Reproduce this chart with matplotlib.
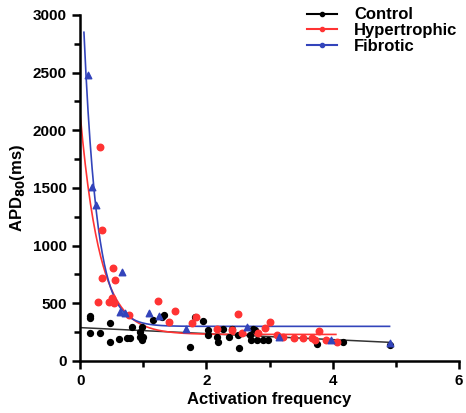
import numpy as np
import matplotlib
matplotlib.use('Agg')
import matplotlib.pyplot as plt
from matplotlib.ticker import MultipleLocator

plt.rcParams['font.family'] = ['Liberation Sans', 'DejaVu Sans']
plt.rcParams['font.weight'] = 'bold'

# Control (black circles)
ctrl_x = [0.16, 0.16, 0.16, 0.32, 0.47, 0.47, 0.61, 0.74, 0.79, 0.82, 0.95, 0.98, 0.95,
          1.0, 0.98, 1.16, 1.29, 1.32, 1.74, 1.82, 1.95, 2.03, 2.03, 2.16, 2.19, 2.27,
          2.35, 2.4, 2.52, 2.5, 2.69, 2.77, 2.74, 2.71, 2.8, 2.9, 2.98, 3.75, 4.17, 4.9]
ctrl_y = [390, 370, 245, 245, 332, 167, 188, 197, 197, 292, 254, 297, 211,
          211, 182, 355, 379, 399, 124, 384, 349, 269, 225, 211, 167, 275,
          211, 275, 110, 225, 225, 269, 275, 182, 182, 182, 182, 147, 167, 140]

# Hypertrophic (red circles)
hyp_x = [0.32, 0.34, 0.52, 0.35, 0.55, 0.29, 0.45, 0.51, 0.53, 0.78, 1.24, 1.5, 1.4,
         1.77, 1.84, 2.16, 2.5, 2.4, 2.56, 2.82, 2.93, 3.0, 3.11, 3.22, 3.38, 3.53,
         3.67, 3.79, 3.72, 3.9, 4.06]
hyp_y = [1852, 1136, 804, 717, 702, 514, 514, 543, 500, 395, 523, 433, 335,
         326, 384, 275, 405, 269, 245, 240, 283, 335, 225, 211, 197, 197,
         197, 263, 182, 182, 162]

# Fibrotic (blue triangles)
fib_x = [0.12, 0.19, 0.25, 0.66, 0.63, 0.71, 1.09, 1.25, 1.68, 2.65, 3.15, 3.97, 4.9]
fib_y = [2480, 1511, 1352, 774, 427, 413, 419, 390, 280, 292, 211, 182, 159]

# fitted curves: one-phase decay (y0, plateau, k, x range) and a straight line
hyp_fit = (2140, 230, 3.2, 0.0, 4.05)
fib_fit = (3700, 300, 4.8, 0.06, 4.9)
ctrl_fit = (289, -26, 0.0, 4.9)

fig = plt.figure(figsize=(4.66, 4.13), dpi=100)
ax = fig.add_axes([0.172, 0.126, 0.813, 0.838])

xf = np.linspace(ctrl_fit[2], ctrl_fit[3], 50)
ax.plot(xf, ctrl_fit[0] + ctrl_fit[1] * xf, color='#333333', lw=1.1)
y0, pl, k, a, b = hyp_fit
xf = np.linspace(a, b, 300)
ax.plot(xf, pl + (y0 - pl) * np.exp(-k * xf), color='#ff3333', lw=1.2)
y0, pl, k, a, b = fib_fit
xf = np.linspace(a, b, 300)
ax.plot(xf, pl + (y0 - pl) * np.exp(-k * xf), color='#3344bb', lw=1.2)

ax.scatter(ctrl_x, ctrl_y, s=18, color='black', zorder=3)
ax.scatter(hyp_x, hyp_y, s=22, color='#ff3333', zorder=3)
ax.scatter(fib_x, fib_y, s=22, color='#3344bb', marker='^', zorder=4)

# legend handles
ax.plot([], [], color='black', marker='o', ms=3, lw=1.5, label='Control')
ax.plot([], [], color='#ff3333', marker='o', ms=3, lw=1.5, label='Hypertrophic')
ax.plot([], [], color='#3344bb', marker='o', ms=3, lw=1.5, label='Fibrotic')
ax.legend(loc='upper right', bbox_to_anchor=(1.035, 1.065), frameon=False,
          fontsize=12, handlelength=1.8, labelspacing=0.05, handletextpad=1.0)

ax.set_xlim(0, 6)
ax.set_ylim(0, 3000)
ax.set_xticks([0, 2, 4, 6])
ax.set_yticks(range(0, 3001, 500))
ax.xaxis.set_minor_locator(MultipleLocator(1))
ax.yaxis.set_minor_locator(MultipleLocator(250))
ax.spines['top'].set_visible(False)
ax.spines['right'].set_visible(False)
for s in ['left', 'bottom']:
    ax.spines[s].set_linewidth(1.8)
ax.tick_params(which='major', width=1.8, length=6, labelsize=11)
ax.tick_params(which='minor', width=1.8, length=4)
for lbl in ax.get_xticklabels() + ax.get_yticklabels():
    lbl.set_fontweight('bold')

ax.set_xlabel('Activation frequency', fontsize=12, fontweight='bold', labelpad=3)
ax.set_ylabel('APD$_{\\mathbf{80}}$(ms)', fontsize=12, fontweight='bold', labelpad=4)

fig.savefig('out.png', dpi=100)
